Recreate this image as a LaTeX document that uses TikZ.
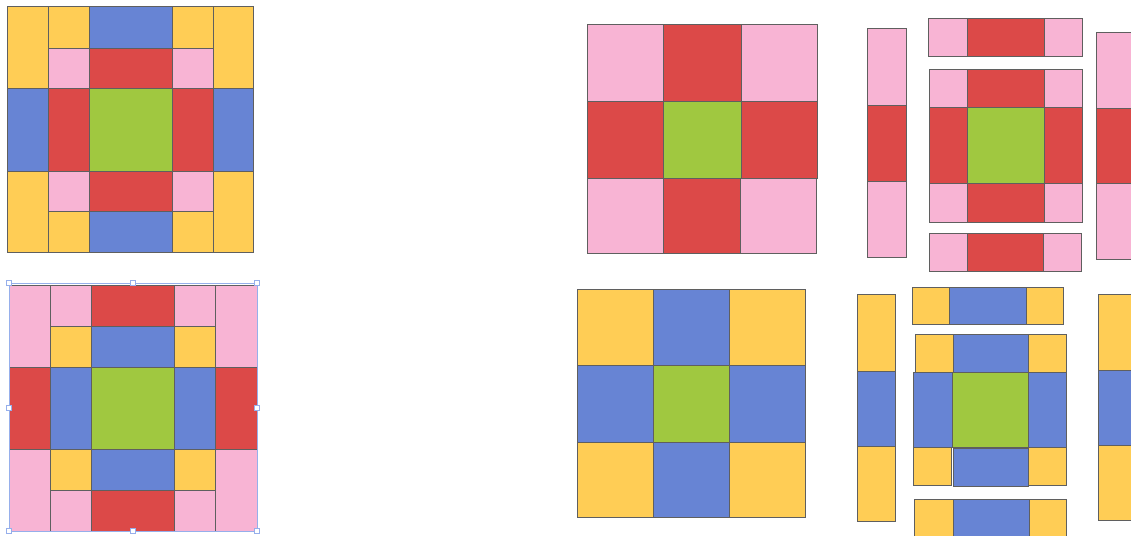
\documentclass[tikz,border=0pt]{standalone}
\usepackage{xcolor}
\usepackage{tikz}

\definecolor{quiltyellow}{RGB}{255,205,85}
\definecolor{quiltblue}{RGB}{103,132,212}
\definecolor{quiltred}{RGB}{220,73,72}
\definecolor{quiltpink}{RGB}{248,180,212}
\definecolor{quiltgreen}{RGB}{160,200,64}
\definecolor{seamgray}{RGB}{95,95,95}
\definecolor{handleblue}{RGB}{150,175,235}

\begin{document}
\begin{tikzpicture}[x=1pt, y=-1pt, line width=0.6pt,
        yel/.style={fill=quiltyellow, draw=seamgray},
        blu/.style={fill=quiltblue, draw=seamgray},
        rd/.style={fill=quiltred, draw=seamgray},
        pnk/.style={fill=quiltpink, draw=seamgray},
        grn/.style={fill=quiltgreen, draw=seamgray},
        handle/.style={fill=white, draw=handleblue, line width=0.5pt}]
        \clip (0,0) rectangle (1131,535);
        \fill[white] (0,0) rectangle (1131,535);

        % sewn block, top left
        \draw[yel] (7,6) rectangle (48,88);
        \draw[blu] (7,88) rectangle (48,171);
        \draw[yel] (7,171) rectangle (48,252);
        \draw[yel] (213,6) rectangle (253,88);
        \draw[blu] (213,88) rectangle (253,171);
        \draw[yel] (213,171) rectangle (253,252);
        \draw[yel] (48,6) rectangle (89,48);
        \draw[blu] (89,6) rectangle (172,48);
        \draw[yel] (172,6) rectangle (213,48);
        \draw[pnk] (48,48) rectangle (89,88);
        \draw[rd] (89,48) rectangle (172,88);
        \draw[pnk] (172,48) rectangle (213,88);
        \draw[rd] (48,88) rectangle (89,171);
        \draw[grn] (89,88) rectangle (172,171);
        \draw[rd] (172,88) rectangle (213,171);
        \draw[pnk] (48,171) rectangle (89,211);
        \draw[rd] (89,171) rectangle (172,211);
        \draw[pnk] (172,171) rectangle (213,211);
        \draw[yel] (48,211) rectangle (89,252);
        \draw[blu] (89,211) rectangle (172,252);
        \draw[yel] (172,211) rectangle (213,252);

        % sewn block, bottom left
        \draw[pnk] (9,285) rectangle (50,367);
        \draw[rd] (9,367) rectangle (50,449);
        \draw[pnk] (9,449) rectangle (50,531);
        \draw[pnk] (215,285) rectangle (257,367);
        \draw[rd] (215,367) rectangle (257,449);
        \draw[pnk] (215,449) rectangle (257,531);
        \draw[pnk] (50,285) rectangle (91,326);
        \draw[rd] (91,285) rectangle (174,326);
        \draw[pnk] (174,285) rectangle (215,326);
        \draw[yel] (50,326) rectangle (91,367);
        \draw[blu] (91,326) rectangle (174,367);
        \draw[yel] (174,326) rectangle (215,367);
        \draw[blu] (50,367) rectangle (91,449);
        \draw[grn] (91,367) rectangle (174,449);
        \draw[blu] (174,367) rectangle (215,449);
        \draw[yel] (50,449) rectangle (91,490);
        \draw[blu] (91,449) rectangle (174,490);
        \draw[yel] (174,449) rectangle (215,490);
        \draw[pnk] (50,490) rectangle (91,531);
        \draw[rd] (91,490) rectangle (174,531);
        \draw[pnk] (174,490) rectangle (215,531);

        % selection frame
        \draw[handleblue, line width=0.5pt] (9,283) rectangle (257,531);
        \draw[handle] (6.5,280.5) rectangle (11.5,285.5);
        \draw[handle] (130.5,280.5) rectangle (135.5,285.5);
        \draw[handle] (254.5,280.5) rectangle (259.5,285.5);
        \draw[handle] (6.5,405.5) rectangle (11.5,410.5);
        \draw[handle] (254.5,405.5) rectangle (259.5,410.5);
        \draw[handle] (6.5,528.5) rectangle (11.5,533.5);
        \draw[handle] (130.5,528.5) rectangle (135.5,533.5);
        \draw[handle] (254.5,528.5) rectangle (259.5,533.5);

        % nine patch, red
        \draw[pnk] (587,24) rectangle (663,101);
        \draw[rd] (663,24) rectangle (741,101);
        \draw[pnk] (741,24) rectangle (817,101);
        \draw[rd] (587,101) rectangle (663,178);
        \draw[grn] (663,101) rectangle (741,178);
        \draw[rd] (741,101) rectangle (817,178);
        \draw[pnk] (587,178) rectangle (663,253);
        \draw[rd] (663,178) rectangle (740,253);
        \draw[pnk] (740,178) rectangle (816,253);

        % pieces laid out, red
        \draw[pnk] (867,28) rectangle (906,105);
        \draw[rd] (867,105) rectangle (906,181);
        \draw[pnk] (867,181) rectangle (906,257);
        \draw[pnk] (928,18) rectangle (967,56);
        \draw[rd] (967,18) rectangle (1044,56);
        \draw[pnk] (1044,18) rectangle (1082,56);
        \draw[pnk] (929,69) rectangle (967,107);
        \draw[rd] (967,69) rectangle (1044,107);
        \draw[pnk] (1044,69) rectangle (1082,107);
        \draw[rd] (929,107) rectangle (967,183);
        \draw[grn] (967,107) rectangle (1044,183);
        \draw[rd] (1044,107) rectangle (1082,183);
        \draw[pnk] (929,183) rectangle (967,222);
        \draw[rd] (967,183) rectangle (1044,222);
        \draw[pnk] (1044,183) rectangle (1082,222);
        \draw[pnk] (929,233) rectangle (967,271);
        \draw[rd] (967,233) rectangle (1043,271);
        \draw[pnk] (1043,233) rectangle (1081,271);
        \draw[pnk] (1096,32) rectangle (1134,108);
        \draw[rd] (1096,108) rectangle (1134,183);
        \draw[pnk] (1096,183) rectangle (1134,259);

        % nine patch, blue
        \draw[yel] (577,289) rectangle (653,365);
        \draw[blu] (653,289) rectangle (729,365);
        \draw[yel] (729,289) rectangle (805,365);
        \draw[blu] (577,365) rectangle (653,442);
        \draw[grn] (653,365) rectangle (729,442);
        \draw[blu] (729,365) rectangle (805,442);
        \draw[yel] (577,442) rectangle (653,517);
        \draw[blu] (653,442) rectangle (729,517);
        \draw[yel] (729,442) rectangle (805,517);

        % pieces laid out, blue
        \draw[yel] (857,294) rectangle (895,371);
        \draw[blu] (857,371) rectangle (895,446);
        \draw[yel] (857,446) rectangle (895,521);
        \draw[yel] (912,287) rectangle (949,324);
        \draw[blu] (949,287) rectangle (1026,324);
        \draw[yel] (1026,287) rectangle (1063,324);
        \draw[yel] (915,334) rectangle (953,372);
        \draw[blu] (953,334) rectangle (1028,372);
        \draw[yel] (1028,334) rectangle (1066,372);
        \draw[blu] (913,372) rectangle (952,447);
        \draw[grn] (952,372) rectangle (1028,447);
        \draw[blu] (1028,372) rectangle (1066,447);
        \draw[yel] (913,447) rectangle (951,485);
        \draw[blu] (953,448) rectangle (1028,486);
        \draw[yel] (1028,447) rectangle (1066,485);
        \draw[yel] (914,499) rectangle (953,537);
        \draw[blu] (953,499) rectangle (1029,537);
        \draw[yel] (1029,499) rectangle (1066,537);
        \draw[yel] (1098,294) rectangle (1136,370);
        \draw[blu] (1098,370) rectangle (1136,445);
        \draw[yel] (1098,445) rectangle (1136,520);
\end{tikzpicture}
\end{document}
